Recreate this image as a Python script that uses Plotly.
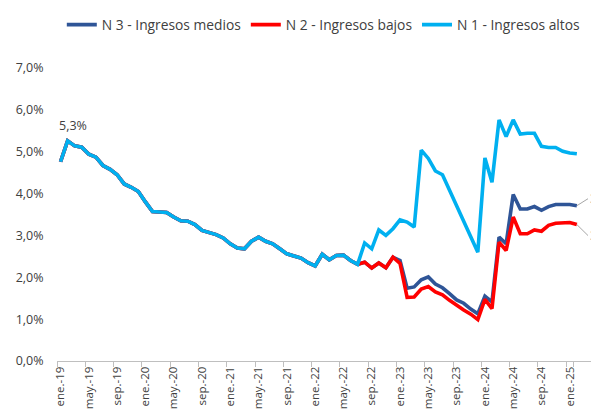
import plotly.graph_objects as go

# ---- data -------------------------------------------------------------
month_abbr = ["ene", "feb", "mar", "abr", "may", "jun", "jul", "ago", "sep", "oct", "nov", "dic"]
years = ["19", "20", "21", "22", "23", "24", "25"]
months = [f"{m}.-{y}" for y in years for m in month_abbr][:74]   # ene.-19 .. feb.-25

# ene.-19 .. jun.-22 : the three series coincide
common = [4.76, 5.26, 5.14, 5.11, 4.94, 4.87, 4.67, 4.58, 4.45, 4.23, 4.15, 4.05,
          3.80, 3.57, 3.56, 3.55, 3.44, 3.35, 3.34, 3.26, 3.12, 3.08, 3.02, 2.94,
          2.80, 2.70, 2.68, 2.86, 2.96, 2.86, 2.80, 2.68, 2.56, 2.51, 2.46, 2.35,
          2.27, 2.55, 2.42, 2.52, 2.53, 2.40]

# jul.-22 .. feb.-25
n1_tail = [2.31, 2.82, 2.68, 3.13, 3.00, 3.16, 3.37, 3.32, 3.20, 5.04, 4.84, 4.54,
           4.45, 4.08, 3.72, 3.36, 2.98, 2.60, 4.85, 4.27, 5.76, 5.36, 5.76, 5.42,
           5.44, 5.44, 5.13, 5.10, 5.10, 5.01, 4.97, 4.95]
n2_tail = [2.31, 2.36, 2.22, 2.34, 2.23, 2.48, 2.33, 1.52, 1.53, 1.72, 1.78, 1.65,
           1.58, 1.45, 1.33, 1.22, 1.12, 0.99, 1.47, 1.25, 2.84, 2.64, 3.44, 3.04,
           3.04, 3.13, 3.10, 3.24, 3.29, 3.29, 3.31, 3.26]
n3_tail = [2.31, 2.36, 2.22, 2.34, 2.23, 2.48, 2.40, 1.74, 1.77, 1.94, 2.01, 1.84,
           1.75, 1.61, 1.46, 1.38, 1.24, 1.13, 1.55, 1.41, 2.96, 2.80, 3.98, 3.63,
           3.63, 3.69, 3.60, 3.69, 3.74, 3.74, 3.74, 3.71]

n1 = common + n1_tail
n2 = common + n2_tail
n3 = common + n3_tail

series = [
    ("N 3 - Ingresos medios", n3, "#2F5597"),
    ("N 2 - Ingresos bajos", n2, "#FF0000"),
    ("N 1 - Ingresos altos", n1, "#00B0F0"),
]

y_ticks = [0, 1, 2, 3, 4, 5, 6, 7]

FONT = "Open Sans"
TXT = "#404040"


def pct(v):
    return f"{v:.1f}".replace(".", ",") + "%"


fig = go.Figure()
for name, vals, color in series:
    fig.add_trace(go.Scatter(
        x=months, y=vals, name=name, mode="lines",
        line=dict(color=color, width=3.6),
        hoverinfo="skip",
    ))

annotations = []
# 2019 peak label
peak_i = max(range(12), key=lambda i: n1[i])
annotations.append(dict(x=months[peak_i], y=n1[peak_i], text=pct(n1[peak_i]),
                        showarrow=False, xshift=5, yshift=15,
                        font=dict(family=FONT, size=12.5, color=TXT)))
# end labels (mostly outside the visible area, as in the original crop)
last = months[-1]
annotations.append(dict(x=last, y=n1[-1], text=pct(n1[-1]), showarrow=False,
                        xanchor="left", xshift=13,
                        font=dict(family=FONT, size=12, color="#7F7F7F")))
for vals, ay in ((n3, -7), (n2, 11)):
    annotations.append(dict(x=last, y=vals[-1], text=pct(vals[-1]), showarrow=True,
                            arrowhead=0, arrowwidth=1, arrowcolor="#A6A6A6",
                            ax=13, ay=ay, xanchor="left",
                            font=dict(family=FONT, size=12, color="#7F7F7F")))

fig.update_layout(
    width=591, height=416,
    margin=dict(l=57, r=0, t=68, b=55, autoexpand=False),
    paper_bgcolor="white", plot_bgcolor="white",
    separators=",.",
    font=dict(family=FONT, size=12, color=TXT),
    showlegend=True,
    legend=dict(orientation="h", x=0.009, y=0.978, xanchor="left", yanchor="top",
                yref="container",
                font=dict(family=FONT, size=13.8, color=TXT),
                bgcolor="rgba(0,0,0,0)", traceorder="normal"),
    annotations=annotations,
)

fig.update_xaxes(
    type="category", categoryorder="array", categoryarray=months,
    range=[-0.5, 75.0], automargin=False,
    tickmode="array", tickvals=months[::4], ticktext=months[::4],
    tickson="boundaries",
    ticks="outside", ticklen=5, tickcolor="#BFBFBF", tickwidth=1,
    tickangle=-90, tickfont=dict(family=FONT, size=11.5, color=TXT),
    showline=True, linecolor="#BFBFBF", linewidth=1,
    showgrid=False, zeroline=False,
)
fig.update_yaxes(
    range=[0, 7], tickmode="array", tickvals=y_ticks, automargin=False,
    ticktext=[pct(v) for v in y_ticks],
    tickfont=dict(family=FONT, size=12.5, color=TXT),
    ticks="outside", ticklen=10, tickcolor="rgba(0,0,0,0)",
    showline=False, showgrid=False, zeroline=False,
)

fig.write_html("out.html",
               config={"displayModeBar": False},
               post_script="document.body.style.margin='0';document.body.style.overflow='hidden';")
